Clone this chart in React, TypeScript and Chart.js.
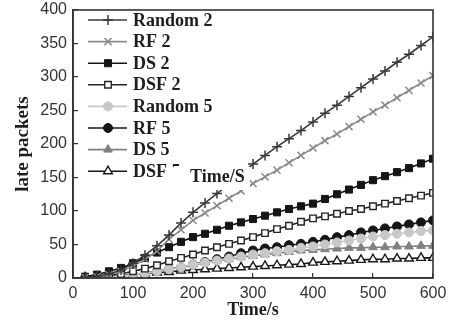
import React, { useEffect, useRef } from 'react';
import { Chart, registerables } from 'chart.js';
import { drawPoint } from 'chart.js/helpers';

Chart.register(...registerables);

const times = [20, 40, 60, 80, 100, 120, 140, 160, 180, 200, 220, 240, 260, 280, 300, 320, 340, 360, 380, 400, 420, 440, 460, 480, 500, 520, 540, 560, 580, 600];

const random2 = [1, 3, 6, 12, 22, 34, 48, 64, 82, 98, 112, 126, 140, 155, 170, 183, 196, 208, 220, 233, 246, 258, 271, 284, 297, 309, 322, 334, 347, 360];
const rf2 = [1, 2, 5, 10, 18, 28, 40, 58, 72, 86, 97, 108, 119, 130, 141, 151, 161, 172, 183, 194, 205, 215, 226, 237, 248, 258, 269, 280, 291, 302];
const ds2 = [2, 5, 10, 15, 22, 30, 38, 46, 54, 61, 66, 72, 78, 83, 88, 93, 98, 103, 107, 111, 118, 125, 132, 139, 146, 152, 158, 164, 171, 178];
const dsf2 = [1, 2, 4, 6, 10, 14, 19, 25, 30, 35, 41, 46, 51, 56, 61, 67, 73, 78, 84, 89, 92, 96, 100, 103, 107, 111, 115, 119, 123, 127];
const random5 = [0, 1, 2, 3, 5, 7, 10, 13, 16, 20, 23, 26, 29, 32, 35, 37, 40, 42, 45, 47, 50, 53, 56, 59, 62, 64, 66, 68, 70, 71];
const rf5 = [0, 1, 2, 3, 5, 7, 10, 13, 16, 20, 24, 28, 32, 37, 41, 44, 46, 49, 51, 54, 57, 61, 64, 68, 71, 74, 77, 80, 83, 86];
const ds5 = [0, 1, 2, 3, 5, 7, 10, 13, 16, 20, 23, 26, 28, 31, 33, 35, 37, 39, 41, 42, 43, 44, 45, 45, 46, 46, 47, 47, 48, 48];
const dsf5 = [1, 2, 3, 4, 5, 7, 8, 9, 11, 12, 13, 14, 15, 16, 17, 18, 19, 20, 21, 23, 24, 25, 26, 27, 28, 28, 29, 29, 30, 30];

const seriesLabels = ['Random 2', 'RF 2', 'DS 2', 'DSF 2', 'Random 5', 'RF 5', 'DS 5', 'DSF 5'];
const seriesValues = [random2, rf2, ds2, dsf2, random5, rf5, ds5, dsf5];

const xTitle = 'Time/s';
const yTitle = 'late packets';
const overlayText = 'Time/S';

const styles = [
  { line: '#3a3a3a', fill: '#3a3a3a', stroke: '#3a3a3a', point: 'cross', r: 5, bw: 1.5 },
  { line: '#8a8a8a', fill: '#8a8a8a', stroke: '#8a8a8a', point: 'crossRot', r: 5, bw: 1.5 },
  { line: '#151515', fill: '#151515', stroke: '#151515', point: 'rect', r: 5, bw: 1 },
  { line: '#252525', fill: '#ffffff', stroke: '#252525', point: 'rect', r: 4.6, bw: 1.4 },
  { line: '#c8c8c8', fill: '#c8c8c8', stroke: '#c8c8c8', point: 'circle', r: 4.5, bw: 1 },
  { line: '#151515', fill: '#151515', stroke: '#151515', point: 'circle', r: 4.5, bw: 1 },
  { line: '#808080', fill: '#808080', stroke: '#808080', point: 'triangle', r: 5, bw: 1 },
  { line: '#1a1a1a', fill: '#ffffff', stroke: '#1a1a1a', point: 'triangle', r: 5, bw: 1.4 },
];

const serif = 'Liberation Serif';
const sans = 'Liberation Sans';

const legendPlugin = {
  id: 'customLegend',
  afterDraw(chart: any) {
    const ctx = chart.ctx;
    const a = chart.chartArea;
    ctx.save();
    ctx.strokeStyle = '#333333';
    ctx.lineWidth = 1.6;
    ctx.strokeRect(a.left, a.top, a.right - a.left, a.bottom - a.top);
    const ds = chart.data.datasets;
    for (let i = 0; i < ds.length; i++) {
      const st = styles[i];
      const y = 20 + i * 21.6;
      ctx.strokeStyle = st.line;
      ctx.lineWidth = 1.6;
      ctx.beginPath();
      ctx.moveTo(88, y);
      ctx.lineTo(127, y);
      ctx.stroke();
      ctx.fillStyle = st.fill;
      ctx.strokeStyle = st.stroke;
      ctx.lineWidth = st.bw;
      drawPoint(ctx, { pointStyle: st.point, radius: st.r, rotation: 0, borderWidth: st.bw }, 108, y);
      ctx.fillStyle = '#1e1e1e';
      ctx.font = `bold 18px "${serif}"`;
      ctx.textAlign = 'left';
      ctx.textBaseline = 'middle';
      ctx.fillText(ds[i].label, 133, y + 1);
    }
    ctx.fillStyle = '#ffffff';
    ctx.fillRect(170, 167, 80, 23);
    ctx.fillStyle = '#1e1e1e';
    ctx.font = `bold 18px "${serif}"`;
    ctx.textAlign = 'left';
    ctx.textBaseline = 'middle';
    ctx.fillText(overlayText, 190, 177);
    ctx.restore();
  },
};

export default function App() {
  const ref = useRef<HTMLCanvasElement>(null);
  useEffect(() => {
    if (!ref.current) return;
    const datasets = seriesLabels.map((label, i) => {
      const st = styles[i];
      return {
        label,
        data: times.map((t, j) => ({ x: t, y: seriesValues[i][j] })),
        borderColor: st.line,
        backgroundColor: st.fill,
        borderWidth: 1.6,
        pointStyle: st.point,
        pointRadius: st.r,
        pointBorderColor: st.stroke,
        pointBackgroundColor: st.fill,
        pointBorderWidth: st.bw,
        tension: 0,
      };
    });
    const chart = new Chart(ref.current, {
      type: 'line',
      data: { datasets },
      options: {
        animation: false,
        responsive: false,
        maintainAspectRatio: false,
        layout: { padding: { top: 10, right: 23, left: 0, bottom: 0 } },
        plugins: { legend: { display: false }, tooltip: { enabled: false } },
        scales: {
          x: {
            type: 'linear',
            min: 0,
            max: 600,
            afterFit: (s: any) => { s.height = 45; s.paddingLeft = 0; s.paddingRight = 0; },
            border: { color: '#333333', width: 1.6 },
            grid: { drawOnChartArea: false, drawTicks: true, tickLength: -5, color: '#333333', lineWidth: 1.2 },
            ticks: { stepSize: 100, padding: 11, color: '#333', font: { family: sans, size: 16 }, maxRotation: 0 },
            title: { display: true, text: xTitle, color: '#1e1e1e', font: { family: serif, size: 18, weight: 'bold' }, padding: { top: 0, bottom: 2 } },
          },
          y: {
            type: 'linear',
            min: 0,
            max: 400,
            afterFit: (s: any) => { s.width = 73; s.paddingTop = 0; s.paddingBottom = 0; },
            border: { color: '#333333', width: 1.6 },
            grid: { drawOnChartArea: false, drawTicks: true, tickLength: -5, color: '#333333', lineWidth: 1.2 },
            ticks: { stepSize: 50, padding: 11, color: '#333', font: { family: sans, size: 16 } },
            title: { display: true, text: yTitle, color: '#1e1e1e', font: { family: serif, size: 19, weight: 'bold' }, padding: { top: 12, bottom: 0 } },
          },
        },
      } as any,
      plugins: [legendPlugin],
    });
    return () => chart.destroy();
  }, []);
  return (
    <div style={{ position: 'absolute', left: 0, top: 0, width: 456, height: 323, background: '#fff' }}>
      <canvas ref={ref} width={456} height={323} />
    </div>
  );
}
